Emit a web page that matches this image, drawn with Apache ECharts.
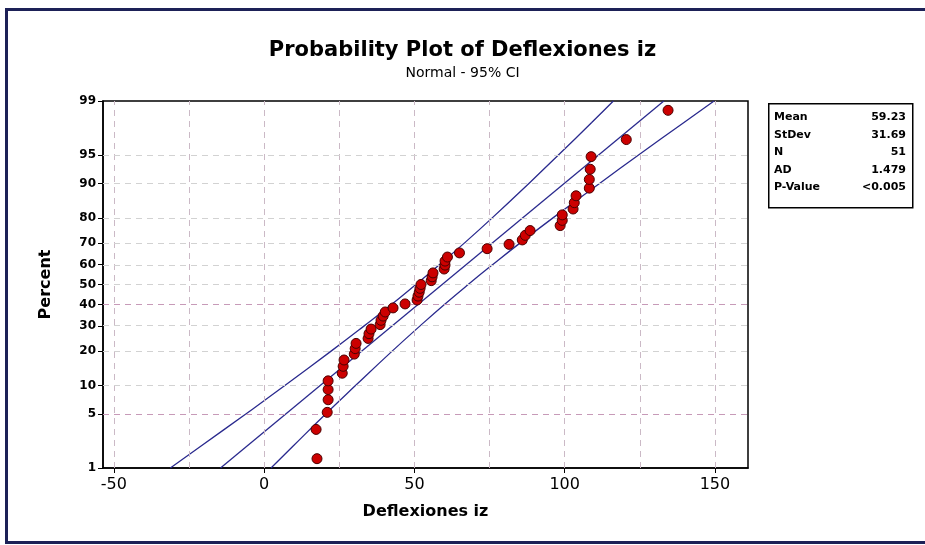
<!DOCTYPE html>
<html>
<head>
<meta charset="utf-8">
<script src="https://cdn.jsdelivr.net/npm/echarts@6/dist/echarts.min.js"></script>
<style>
  html, body { margin: 0; padding: 0; background: #fff; }
  #chart { width: 925px; height: 545px; }
</style>
</head>
<body>
<div id="chart"></div>
<script>
// valores (ordenados)
const deflexiones = [
  17.6, 17.3, 21.0, 21.3, 21.3, 21.3, 26.0, 26.3, 26.6, 30.0,
  30.3, 30.6, 34.6, 34.9, 35.6, 38.6, 38.9, 39.6, 40.3, 42.9,
  46.9, 50.9, 51.2, 51.6, 51.9, 52.2, 55.6, 55.9, 56.2, 59.9,
  60.2, 60.2, 61.0, 65.0, 74.2, 81.5, 85.9, 86.9, 88.5, 98.5,
  99.2, 99.2, 102.8, 103.2, 103.8, 108.2, 108.2, 108.5, 108.8, 120.5,
  134.4
];

const ciPct  = [1, 2, 5, 10, 20, 30, 40, 50, 60, 70, 80, 90, 95, 98, 99];
const ciLow  = [-31.2, -21.2, -6.2, 6.9, 22.4, 33.3, 42.4, 50.5, 58.4, 66.6, 75.8, 88.1, 98.0, 109.0, 116.2];
const ciHigh = [2.3, 9.5, 20.4, 30.4, 42.7, 51.9, 60.0, 67.9, 76.1, 85.1, 96.0, 111.6, 124.7, 139.7, 149.7];
const fitPct = [1, 99];
const fitX   = [-14.5, 133.0];

// ejes
const yTickPct = [1, 5, 10, 20, 30, 40, 50, 60, 70, 80, 90, 95, 99];
const yGridPct = [5, 10, 20, 30, 40, 50, 60, 70, 80, 90, 95];
const xTickVals = [-50, 0, 50, 100, 150];
const xGridVals = [-50, -25, 0, 25, 50, 75, 100, 125, 150];

const statsLabels = ['Mean', 'StDev', 'N', 'AD', 'P-Value'];
const statsValues = ['59.23', '31.69', '51', '1.479', '<0.005'];

// inversa de la normal (Acklam)
function probit(p) {
  const a = [-3.969683028665376e+01, 2.209460984245205e+02, -2.759285104469687e+02, 1.383577518672690e+02, -3.066479806614716e+01, 2.506628277459239e+00];
  const b = [-5.447609879822406e+01, 1.615858368580409e+02, -1.556989798598866e+02, 6.680131188771972e+01, -1.328068155288572e+01];
  const c = [-7.784894002430293e-03, -3.223964580411365e-01, -2.400758277161838e+00, -2.549671010284782e+00, 4.374664141464968e+00, 2.938163982698783e+00];
  const d = [7.784695709041462e-03, 3.224671290700398e-01, 2.445134137142996e+00, 3.754408661907416e+00];
  const pl = 0.02425;
  let q, r;
  if (p < pl) {
    q = Math.sqrt(-2 * Math.log(p));
    return (((((c[0]*q+c[1])*q+c[2])*q+c[3])*q+c[4])*q+c[5]) / ((((d[0]*q+d[1])*q+d[2])*q+d[3])*q+1);
  } else if (p <= 1 - pl) {
    q = p - 0.5; r = q * q;
    return (((((a[0]*r+a[1])*r+a[2])*r+a[3])*r+a[4])*r+a[5])*q / (((((b[0]*r+b[1])*r+b[2])*r+b[3])*r+b[4])*r+1);
  } else {
    q = Math.sqrt(-2 * Math.log(1 - p));
    return -(((((c[0]*q+c[1])*q+c[2])*q+c[3])*q+c[4])*q+c[5]) / ((((d[0]*q+d[1])*q+d[2])*q+d[3])*q+1);
  }
}
const z = pct => probit(pct / 100);

const n = deflexiones.length;
// posiciones de Minitab (rangos medianos)
const pointData = deflexiones.map((v, i) => [v, probit((i + 1 - 0.3) / (n + 0.4))]);

const lineColor = '#2a2a8e';
const font = 'DejaVu Sans';

const chart = echarts.init(document.getElementById('chart'));

const statsGraphics = [];
statsLabels.forEach((lab, i) => {
  const y = 112 + i * 17.5;
  statsGraphics.push({
    type: 'text', left: 774, top: y,
    style: { text: lab, font: 'bold 11px "DejaVu Sans"', fill: '#000' }
  });
  statsGraphics.push({
    type: 'text', right: 925 - 906, top: y,
    style: { text: statsValues[i], font: 'bold 11px "DejaVu Sans"', fill: '#000', align: 'right' }
  });
});

chart.setOption({
  animation: false,
  backgroundColor: '#fff',
  title: {
    left: 'center',
    top: 35,
    text: 'Probability Plot of Deflexiones iz',
    subtext: 'Normal - 95% CI',
    itemGap: 5,
    textStyle: { fontFamily: font, fontSize: 21, fontWeight: 'bold', color: '#000' },
    subtextStyle: { fontFamily: font, fontSize: 14, color: '#000' }
  },
  grid: {
    left: 103, right: 177, top: 101, bottom: 77,
    show: true, borderColor: '#000', borderWidth: 1.5, backgroundColor: '#fff'
  },
  xAxis: {
    type: 'value',
    min: -53.6, max: 161,
    name: 'Deflexiones iz',
    nameLocation: 'middle',
    nameGap: 36,
    nameTextStyle: { fontFamily: font, fontWeight: 'bold', fontSize: 16, color: '#000' },
    axisLine: { show: true, onZero: false, lineStyle: { color: '#000', width: 1.5 } },
    axisTick: { show: true, customValues: xTickVals, length: 5, lineStyle: { color: '#000' } },
    axisLabel: { customValues: xTickVals, margin: 9, fontFamily: font, fontSize: 16, color: '#000' },
    splitLine: { show: false }
  },
  yAxis: {
    type: 'value',
    min: z(1), max: z(99),
    name: 'Percent',
    nameLocation: 'middle',
    nameGap: 49,
    nameTextStyle: { fontFamily: font, fontWeight: 'bold', fontSize: 16, color: '#000' },
    axisLine: { show: true, onZero: false, lineStyle: { color: '#000', width: 1.5 } },
    axisTick: { show: true, customValues: yTickPct.map(z), length: 5, lineStyle: { color: '#000' } },
    axisLabel: {
      customValues: yTickPct.map(z),
      margin: 7,
      fontFamily: font, fontWeight: 'bold', fontSize: 12, color: '#000',
      formatter: v => {
        let best = yTickPct[0];
        yTickPct.forEach(p => { if (Math.abs(z(p) - v) < Math.abs(z(best) - v)) best = p; });
        return String(best);
      }
    },
    splitLine: { show: false }
  },
  series: [
    {
      name: 'grid',
      type: 'line',
      data: [],
      silent: true,
      markLine: {
        silent: true,
        symbol: 'none',
        label: { show: false },
        lineStyle: { type: [6, 5], color: '#cbb9c6', width: 1 },
        data: xGridVals.map(v => ({ xAxis: v }))
          .concat(yGridPct.map(p => ({ yAxis: z(p), lineStyle: { color: (p === 40 || p === 5) ? '#c79ab8' : '#d2d2d2' } })))
      }
    },
    {
      name: 'ci-low', type: 'line', showSymbol: false, silent: true,
      data: ciPct.map((p, i) => [ciLow[i], z(p)]),
      lineStyle: { color: lineColor, width: 1.3 }, smooth: true
    },
    {
      name: 'ci-high', type: 'line', showSymbol: false, silent: true,
      data: ciPct.map((p, i) => [ciHigh[i], z(p)]),
      lineStyle: { color: lineColor, width: 1.3 }, smooth: true
    },
    {
      name: 'fit', type: 'line', showSymbol: false, silent: true,
      data: fitPct.map((p, i) => [fitX[i], z(p)]),
      lineStyle: { color: lineColor, width: 1.3 }
    },
    {
      name: 'Deflexiones iz', type: 'scatter',
      data: pointData,
      symbol: 'circle', symbolSize: 10,
      itemStyle: { color: '#cc0000', borderColor: '#4a0000', borderWidth: 1, opacity: 1 },
      z: 5
    }
  ],
  graphic: [
    {
      type: 'rect', left: 4, top: 7, z: 100,
      shape: { width: 940, height: 533 },
      style: { fill: null, stroke: '#1d2157', lineWidth: 3 }
    },
    {
      type: 'rect', left: 768, top: 103,
      shape: { width: 144, height: 104 },
      style: { fill: '#fff', stroke: '#000', lineWidth: 1.5 }
    }
  ].concat(statsGraphics)
});
</script>
</body>
</html>
